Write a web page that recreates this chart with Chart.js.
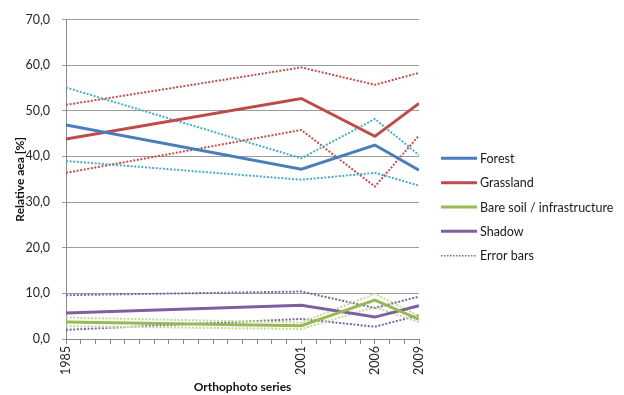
<!DOCTYPE html>
<html>
<head>
<meta charset="utf-8">
<script src="https://cdn.jsdelivr.net/npm/chart.js@4/dist/chart.umd.min.js"></script>
<style>
  html, body { margin: 0; padding: 0; background: #fff; }
  #wrap { width: 624px; height: 395px; position: relative; }
</style>
</head>
<body>
<div id="wrap"><canvas id="c"></canvas></div>
<script>
// Orthophoto acquisition years
const years = [1985, 2001, 2006, 2009];
const yearTickLabels = [1985, 2001, 2006, 2009];
const yTickValues = [0, 10, 20, 30, 40, 50, 60, 70];

// Relative area per land-cover class [%]
const forest    = [46.9, 37.2, 42.5, 37.0];
const grassland = [43.8, 52.7, 44.4, 51.6];
const bareSoil  = [3.7, 2.9, 8.5, 4.3];
const shadow    = [5.7, 7.4, 4.8, 7.3];

// Error bar envelopes (lower / upper)
const forestLow     = [39.0, 34.9, 36.4, 33.6];
const forestHigh    = [55.1, 39.6, 48.2, 40.3];
const grasslandLow  = [36.4, 45.8, 33.4, 44.6];
const grasslandHigh = [51.3, 59.5, 55.7, 58.3];
const bareSoilLow   = [2.8, 2.2, 7.0, 3.7];
const bareSoilHigh  = [4.7, 3.6, 9.9, 5.0];
const shadowLow     = [2.0, 4.4, 2.7, 5.2];
const shadowHigh    = [9.6, 10.4, 6.8, 9.3];

const seriesNames = ['Forest', 'Grassland', 'Bare soil / infrastructure', 'Shadow'];
const errorLabel = 'Error bars';

const colors = {
  forest: '#4A7EBB', grassland: '#BE4B48', bare: '#98B954', shadow: '#7D60A0',
  forestErr: '#4BACC6', grasslandErr: '#C0504D', bareErr: '#C3D69B', shadowErr: '#8064A2'
};

const pts = arr => arr.map((v, i) => ({ x: years[i], y: v }));

function mainLine(label, data, color) {
  return { label, data: pts(data), borderColor: color, backgroundColor: color,
           borderWidth: 3, pointRadius: 0, tension: 0, fill: false };
}
function errLine(data, color) {
  return { label: errorLabel, data: pts(data), borderColor: color, backgroundColor: color,
           borderWidth: 2, borderDash: [2, 1.6], pointRadius: 0, tension: 0, fill: false };
}

const datasets = [
  mainLine(seriesNames[0], forest, colors.forest),
  mainLine(seriesNames[1], grassland, colors.grassland),
  mainLine(seriesNames[2], bareSoil, colors.bare),
  mainLine(seriesNames[3], shadow, colors.shadow),
  errLine(forestHigh, colors.forestErr),
  errLine(forestLow, colors.forestErr),
  errLine(grasslandHigh, colors.grasslandErr),
  errLine(grasslandLow, colors.grasslandErr),
  errLine(bareSoilHigh, colors.bareErr),
  errLine(bareSoilLow, colors.bareErr),
  errLine(shadowHigh, colors.shadowErr),
  errLine(shadowLow, colors.shadowErr)
];

// Legend at the right: four solid classes plus one dotted "Error bars" entry
const sideLegend = {
  id: 'sideLegend',
  afterDraw(chart) {
    const ctx = chart.ctx;
    const items = [
      { text: seriesNames[0], color: colors.forest, dash: [] , w: 3},
      { text: seriesNames[1], color: colors.grassland, dash: [], w: 3 },
      { text: seriesNames[2], color: colors.bare, dash: [], w: 3 },
      { text: seriesNames[3], color: colors.shadow, dash: [], w: 3 },
      { text: errorLabel, color: colors.shadowErr, dash: [1.5, 1.5], w: 1.5 }
    ];
    const x0 = 441, x1 = 477, tx = 480, y0 = 158.3, step = 24.35;
    ctx.save();
    ctx.font = '12.5px Lato';
    ctx.textBaseline = 'middle';
    ctx.textAlign = 'left';
    items.forEach((it, i) => {
      const y = y0 + i * step;
      ctx.beginPath();
      ctx.setLineDash(it.dash);
      ctx.strokeStyle = it.color;
      ctx.lineWidth = it.w;
      ctx.moveTo(x0, y);
      ctx.lineTo(x1, y);
      ctx.stroke();
      ctx.setLineDash([]);
      ctx.fillStyle = '#1a1a1a';
      ctx.fillText(it.text, tx, y + 0.5);
    });
    ctx.restore();
  }
};

new Chart(document.getElementById('c'), {
  type: 'line',
  data: { datasets },
  options: {
    responsive: true,
    maintainAspectRatio: false,
    animation: false,
    layout: { padding: { top: 15, right: 205, bottom: 0, left: 0 } },
    plugins: { legend: { display: false }, tooltip: { enabled: false } },
    scales: {
      x: {
        type: 'linear',
        min: years[0],
        max: years[years.length - 1],
        afterBuildTicks(scale) {
          const t = [];
          for (let v = years[0]; v <= years[years.length - 1]; v++) t.push({ value: v });
          scale.ticks = t;
        },
        afterFit(scale) { scale.height = 56; },
        ticks: {
          autoSkip: false,
          minRotation: 90,
          maxRotation: 90,
          padding: 2,
          color: '#262626',
          font: { family: 'Lato', size: 12.5 },
          callback: v => yearTickLabels.includes(v) ? String(v) : ''
        },
        grid: { drawOnChartArea: false, drawTicks: true, tickLength: 5, color: '#8a8a8a' },
        border: { color: '#8a8a8a', width: 1 },
        title: {
          display: true, text: 'Orthophoto series', color: '#111',
          font: { family: 'Lato', size: 12, weight: 'bold' },
          padding: { top: 0, bottom: 1 }
        }
      },
      y: {
        min: 0,
        max: 70,
        afterBuildTicks(scale) { scale.ticks = yTickValues.map(v => ({ value: v })); },
        afterFit(scale) { scale.width = 66; },
        ticks: {
          padding: 12,
          color: '#262626',
          font: { family: 'Lato', size: 12.5 },
          callback: v => v.toFixed(1).replace('.', ',')
        },
        grid: { color: '#9c9c9c', lineWidth: 1, tickLength: 4 },
        border: { color: '#8a8a8a', width: 1 },
        title: {
          display: true, text: 'Relative aea [%]', color: '#111',
          font: { family: 'Lato', size: 12, weight: 'bold' },
          padding: { top: 13, bottom: 0 }
        }
      }
    }
  },
  plugins: [sideLegend]
});
</script>
</body>
</html>
